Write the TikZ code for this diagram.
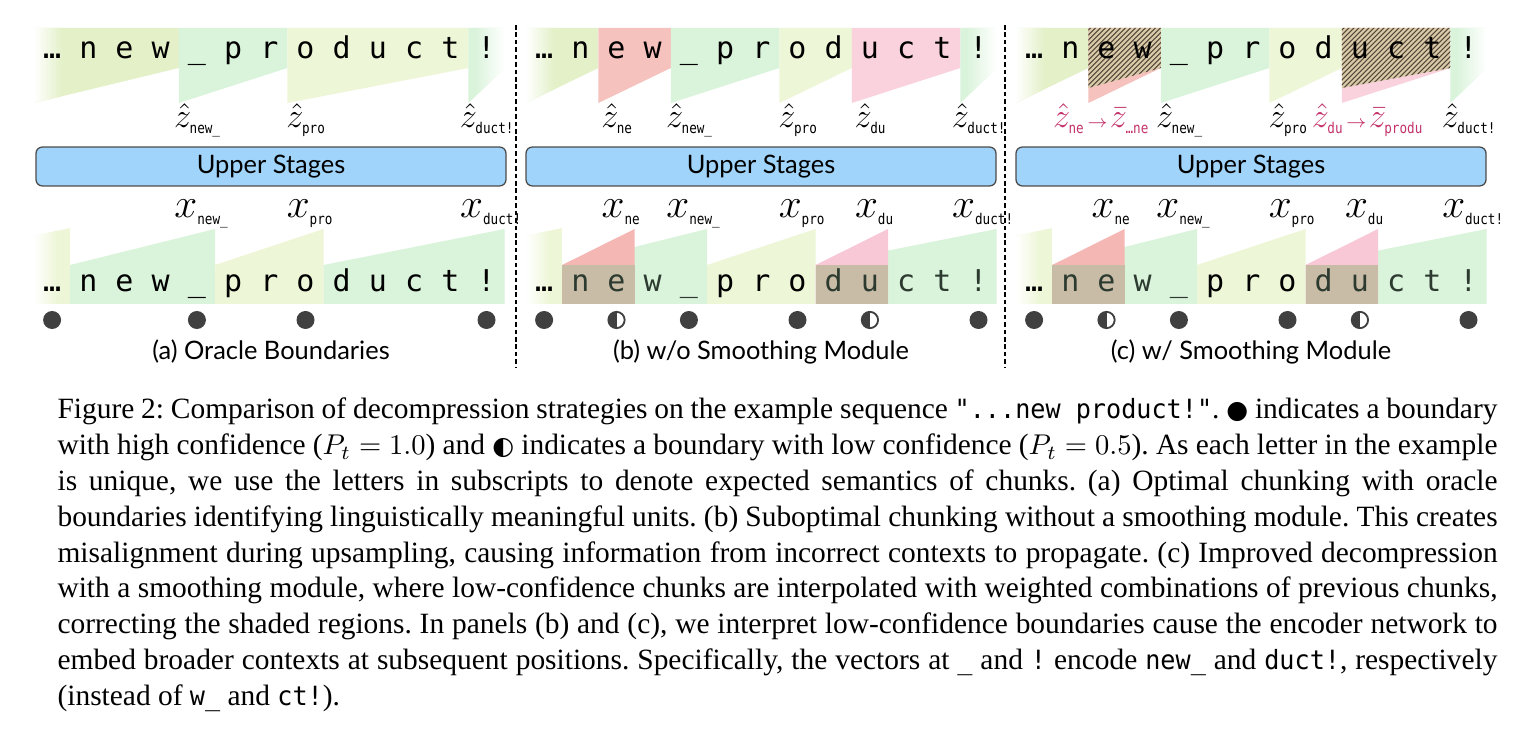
\documentclass[tikz,border=0pt]{standalone}
\usepackage{fontspec}
\setmainfont{Liberation Serif}
\setsansfont{Lato}
\setmonofont{DejaVu Sans Mono}
\newfontfamily\captt{DejaVu Sans Mono}[Scale=0.9,FakeStretch=0.95]
\newfontfamily\subfam{DejaVu Sans Mono}[Scale=0.8,FakeStretch=0.85]
\newfontfamily\symfont{DejaVu Sans}[Scale=0.85]

\definecolor{chunkyg}{HTML}{E3F0C8}
\definecolor{chunkg}{HTML}{DAF3DB}
\definecolor{chunky}{HTML}{EDF6D6}
\definecolor{chunkr}{HTML}{F6C2BE}
\definecolor{chunkp}{HTML}{F9D2DD}
\definecolor{trir}{HTML}{F5B7B3}
\definecolor{trip}{HTML}{F8C8D7}
\definecolor{overlap}{HTML}{C9BCA6}
\definecolor{hatchbg}{HTML}{D9CAA8}
\definecolor{hatchln}{HTML}{54473A}
\definecolor{stagefill}{HTML}{A0D4FA}
\definecolor{dotgray}{HTML}{404040}
\definecolor{fixpink}{HTML}{C4336C}
\definecolor{inkdim}{HTML}{2C3A30}

\newcommand\subtt{\fontsize{6.5}{6.5}\selectfont\subfam}

% chunk shapes: #1 panel edge, #2 first column, #3 last column, #4 colour
\newcommand\topchunk[4]{%
  \fill[#4] ({#1+36.2*#2},28) -- ({#1+36.2*(#3+1)},28) -- ({#1+36.2*(#3+1)},68) -- ({#1+36.2*#2},103) -- cycle;}
\newcommand\botchunk[4]{%
  \fill[#4] ({#1+36.2*#2},304) -- ({#1+36.2*(#3+1)},304) -- ({#1+36.2*(#3+1)},229) -- ({#1+36.2*#2},265) -- cycle;}
% same, faded on the left (l) or right (r) side
\newcommand\topchunkfade[5]{%
  \begin{scope}
    \clip ({#1+36.2*#2},28) -- ({#1+36.2*(#3+1)},28) -- ({#1+36.2*(#3+1)},68) -- ({#1+36.2*#2},103) -- cycle;
    \fill[#4] ({#1+36.2*#2},0) rectangle ({#1+36.2*(#3+1)},120);
    \if l#5
      \shade[left color=white, right color=#4] ({#1+36.2*#2},0) rectangle ({#1+36.2*#2+28},120);
    \else
      \shade[left color=#4, right color=white] ({#1+36.2*(#3+1)-30},0) rectangle ({#1+36.2*(#3+1)},120);
    \fi
  \end{scope}}
\newcommand\botfirst[1]{%
  \begin{scope}
    \clip (#1,304) -- ({#1+36.2},304) -- ({#1+36.2},228) -- (#1,236) -- cycle;
    \fill[chunky] (#1,220) rectangle ({#1+36.2},310);
    \shade[left color=white, right color=chunky] (#1,220) rectangle ({#1+24},310);
  \end{scope}}
% hatched (smoothed) region of the top row
\newcommand\hatchpatch[3]{%
  \begin{scope}
    \clip ({#1+36.2*#2},28) -- ({#1+36.2*(#3+1)},28) -- ({#1+36.2*(#3+1)},68) -- ({#1+36.2*#2},88) -- cycle;
    \fill[hatchbg] ({#1+36.2*#2},20) rectangle ({#1+36.2*(#3+1)},110);
    \foreach \h in {0,5,...,200}
      \draw[hatchln, line width=0.35pt] ({#1+36.2*#2-90+\h},110) -- ++(90,-90);
  \end{scope}}
% token rows
\newcommand\tokrow[3]{%
  \foreach \ch [count=\i from 0] in {…,n,e,w,\_,p,r,o,d,u,c,t,!}
    \node[tok] (#3\i) at ({#1+36.2*\i+18.1},#2) {\ch};}
\newcommand\tokrowdim[3]{%
  \foreach \ch/\cl [count=\i from 0] in {…/black,n/inkdim,e/inkdim,w/inkdim,\_/inkdim,p/black,r/black,o/black,d/inkdim,u/inkdim,c/inkdim,t/inkdim,!/inkdim}
    \node[tok, text=\cl] (#3\i) at ({#1+36.2*\i+18.1},#2) {\ch};}
% labels: #1 panel edge, #2 column, #3 name, #4 subscript
\newcommand\zlab[4]{\node[zlab] (#3) at ({#1+36.2*#2+19},128) {$\hat{z}_{\mbox{\subtt #4}}$};}
\newcommand\xlab[4]{\node[xlab] (#3) at ({#1+36.2*#2+23},218) {$x_{\mbox{\subtt #4}}$};}
\newcommand\fixarrow{\mkern1mu{\scriptscriptstyle\rightarrow}\mkern1mu}

\begin{document}
\begin{tikzpicture}[x=0.35pt, y=-0.35pt,
  tok/.style={font=\fontsize{10.5}{11}\selectfont\ttfamily, inner sep=0pt, anchor=base},
  zlab/.style={font=\fontsize{12.5}{12.5}\selectfont, inner sep=0pt, anchor=base},
  xlab/.style={font=\fontsize{13.5}{13.5}\selectfont, inner sep=0pt, anchor=base},
  fixlab/.style={zlab, text=fixpink},
  stagebox/.style={draw=black!70, fill=stagefill, rounded corners=2.2pt, line width=0.45pt,
    minimum width=164.5pt, minimum height=13.6pt, inner sep=0pt, font=\fontsize{8.9}{9}\selectfont\sffamily},
  panelcap/.style={font=\fontsize{8.9}{9}\selectfont\sffamily, inner sep=0pt},
  bnd/.style={circle, fill=dotgray, minimum size=6.3pt, inner sep=0pt},
  halfbnd/.style={circle, draw=dotgray, fill=white, line width=0.65pt, minimum size=5.7pt, inner sep=0pt,
    path picture={\fill[dotgray] (path picture bounding box.south west) rectangle (path picture bounding box.north);}},
  sep/.style={line width=0.7pt, dash pattern=on 1.6pt off 1pt},
  capline/.style={anchor=base west, inner sep=0pt, font=\fontsize{10.3}{11}\selectfont\frenchspacing}
]
\fill[white] (0,0) rectangle (1520,742);
\useasboundingbox (0,0) rectangle (1520,742);

% (a) oracle boundaries
\topchunkfade{34}{0}{3}{chunkyg}{l}
\topchunk{34}{4}{6}{chunkg}
\topchunk{34}{7}{11}{chunky}
\topchunkfade{34}{12}{12}{chunkg}{r}
\botfirst{34}
\botchunk{34}{1}{4}{chunkg}
\botchunk{34}{5}{7}{chunky}
\botchunk{34}{8}{12}{chunkg}
\tokrow{34}{59}{ta}
\tokrow{34}{292}{ba}
\zlab{34}{4}{za4}{new\_}
\zlab{34}{7}{za7}{pro}
\zlab{34}{12}{za12}{duct!}
\xlab{34}{4}{xa4}{new\_}
\xlab{34}{7}{xa7}{pro}
\xlab{34}{12}{xa12}{duct!}
\node[stagebox] (usa) at (271,166.5) {Upper Stages};
\foreach \c in {0,4,7,12}
  \node[bnd] (da\c) at ({34+36.2*\c+18.1},320) {};
\node[panelcap] (capa) at (271,352) {(a) Oracle Boundaries};

% (b) and (c) share the chunk layout
\foreach \P/\p in {526/b,1016/c} {
  \topchunkfade{\P}{0}{1}{chunkyg}{l}
  \topchunk{\P}{2}{3}{chunkr}
  \topchunk{\P}{4}{6}{chunkg}
  \topchunk{\P}{7}{8}{chunky}
  \topchunk{\P}{9}{11}{chunkp}
  \topchunkfade{\P}{12}{12}{chunkg}{r}
  \botfirst{\P}
  \botchunk{\P}{1}{4}{chunkg}
  \botchunk{\P}{1}{2}{trir}
  \botchunk{\P}{5}{7}{chunky}
  \botchunk{\P}{8}{12}{chunkg}
  \botchunk{\P}{8}{9}{trip}
  \fill[overlap] ({\P+36.2},265) rectangle ({\P+36.2*3},304);
  \fill[overlap] ({\P+36.2*8},265) rectangle ({\P+36.2*10},304);
}
\hatchpatch{1016}{2}{3}
\hatchpatch{1016}{9}{11}

\tokrow{526}{59}{tb}
\tokrowdim{526}{292}{bb}
\tokrow{1016}{59}{tc}
\tokrowdim{1016}{292}{bc}

% (b) w/o smoothing
\zlab{526}{2}{zb2}{ne}
\zlab{526}{4}{zb4}{new\_}
\zlab{526}{7}{zb7}{pro}
\zlab{526}{9}{zb9}{du}
\zlab{526}{12}{zb12}{duct!}
\node[stagebox] (usb) at (761,166.5) {Upper Stages};
\node[panelcap] (capb) at (761,352) {(b) w/o Smoothing Module};

% (c) w/ smoothing
\node[fixlab] (zc2) at ({1016+36.2*2+13},128) {$\hat{z}_{\mbox{\subtt ne}}\fixarrow\bar{z}_{\mbox{\subtt …ne}}$};
\zlab{1016}{4}{zc4}{new\_}
\zlab{1016}{7}{zc7}{pro}
\node[fixlab] (zc9) at ({1016+36.2*9+26},128) {$\hat{z}_{\mbox{\subtt du}}\fixarrow\bar{z}_{\mbox{\subtt produ}}$};
\zlab{1016}{12}{zc12}{duct!}
\node[stagebox] (usc) at (1251,166.5) {Upper Stages};
\node[panelcap] (capc) at (1251,352) {(c) w/ Smoothing Module};

\foreach \P/\p in {526/b,1016/c} {
  \xlab{\P}{2}{x\p2}{ne}
  \xlab{\P}{4}{x\p4}{new\_}
  \xlab{\P}{7}{x\p7}{pro}
  \xlab{\P}{9}{x\p9}{du}
  \xlab{\P}{12}{x\p12}{duct!}
  \foreach \c in {0,4,7,12}
    \node[bnd] (d\p\c) at ({\P+36.2*\c+18.1},320) {};
  \foreach \c in {2,9}
    \node[halfbnd] (d\p\c) at ({\P+36.2*\c+18.1},320) {};
}

% panel separators
\draw[sep] (516,25) -- (516,368);
\draw[sep] (1005,25) -- (1005,368);

% caption
\node[capline] (cap1) at (57,419) {\makebox[504pt][s]{Figure 2: Comparison of decompression strategies on the example sequence \mbox{\captt"...new product!"}. {\symfont●} indicates a boundary}};
\node[capline] (cap2) at (57,454.8) {\makebox[504pt][s]{with high confidence ($P_t = 1.0$) and {\symfont◐} indicates a boundary with low confidence ($P_t = 0.5$). As each letter in the example}};
\node[capline] (cap3) at (57,490.6) {\makebox[504pt][s]{is unique, we use the letters in subscripts to denote expected semantics of chunks. (a) Optimal chunking with oracle}};
\node[capline] (cap4) at (57,526.4) {\makebox[504pt][s]{boundaries identifying linguistically meaningful units. (b) Suboptimal chunking without a smoothing module. This creates}};
\node[capline] (cap5) at (57,562.2) {\makebox[504pt][s]{misalignment during upsampling, causing information from incorrect contexts to propagate. (c) Improved decompression}};
\node[capline] (cap6) at (57,598) {\makebox[504pt][s]{with a smoothing module, where low-confidence chunks are interpolated with weighted combinations of previous chunks,}};
\node[capline] (cap7) at (57,633.8) {\makebox[504pt][s]{correcting the shaded regions. In panels (b) and (c), we interpret low-confidence boundaries cause the encoder network to}};
\node[capline] (cap8) at (57,669.6) {\makebox[504pt][s]{embed broader contexts at subsequent positions. Specifically, the vectors at {\captt\_} and {\captt!} encode {\captt new\_} and {\captt duct!}, respectively}};
\node[capline] (cap9) at (57,705.4) {(instead of {\captt w\_} and {\captt ct!}).};
\end{tikzpicture}
\end{document}
